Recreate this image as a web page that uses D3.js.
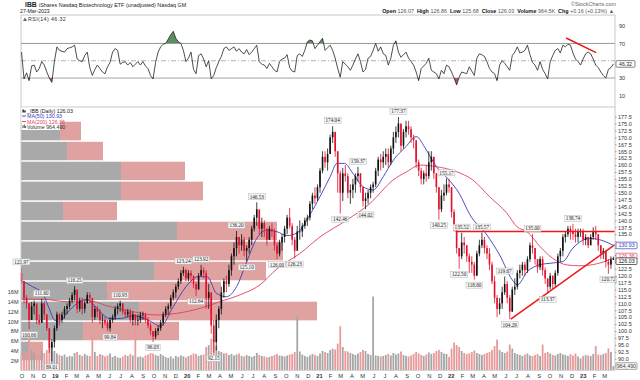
<!DOCTYPE html>
<html><head><meta charset="utf-8">
<script src="https://cdn.jsdelivr.net/npm/d3@7/dist/d3.min.js"></script>
<style>
html,body{margin:0;padding:0;background:#fff;}
svg{display:block;font-family:"Liberation Sans",Arial,sans-serif;}
</style></head><body>
<svg id="chart" width="640" height="380"></svg>
<script>
// ---------------- DATA (weekly) ----------------
const startDate = "2018-10-01";
const endDate = "2023-03-31";
const firstOpen = 121;
const closes = [118,112,110,104,109,110,104,103,110,106,101,94,96,101,106,104,106,108,109,111,113,115,108,111,108,110,113,112,105,108,
107,104,104,103,101,104,105,108,109,110,107,106,107,104,106,104,104,106,106,104,102,100,98,100,101,103,106,108,109,112,
114,116,118,121,122,119,121,120,117,115,120,122,121,112,114,102,96,104,108,114,118,117,122,127,130,134,131,133,129,130,
133,137,141,144,137,139,137,133,137,136,131,128,132,134,137,141,138,133,129,136,136,138,140,141,146,149,148,152,158,163,
161,164,170,172,165,157,150,157,156,150,151,153,156,157,152,147,148,150,152,153,158,162,161,163,164,161,166,170,172,175,
167,172,174,173,170,169,161,158,155,157,156,161,163,157,152,144,149,150,153,152,143,138,130,127,132,131,127,125,124,120,
128,131,133,130,128,124,118,112,108,110,114,117,112,107,115,116,121,122,124,122,126,131,130,126,123,126,122,119,116,120,
117,121,127,129,134,135,137,136,135,134,136,136,133,134,131,134,136,135,131,128,129,125,124,125.87,126.03];
const highs = [122.97,118,113,110,110.5,111,109,106,111.6,111,106,101,97,102,107,106.5,107,109,110,112,114,116.25,114,112,112,111,114,114,111,109,
109,108,106,105,104,105,106,109,110,110.93,110,108,108,108,107,106,106,107,107,106.5,105,103,100,101,102,104,107,109,110,113,
115,117,119,122,123.24,122.5,122,122,120,118,121,123.92,123,122,117,113,104,106,109,116,119,120,124,128,132,136.2,134,135,134,131,
134,138,142,146.53,143,141,140,137,138,139,137,132,133,135,138,142,144.5,139,134,138,140,139,141,142,147,150,152,153,159,165,
165,166,171,174.04,172,165,158,159,160,157,153,155,157,159.37,157,152,150,151,153,154,159,163,164,165,166,166,167,172,174,177.37,
175,173,176,176,174,171,168,162,159,158,160,165,165,163,157,152,151,153,155.17,155,152,144,137,130,135.52,134,131,128,127,125,
129,133,135.57,134,131,130,125,120,113,112,116,119.67,118,113,116,119,122,124,125,125,127,132,135,130,126,127,127,123,119,121,
120,122,128,130,135,136,138,138,138.74,137,137,137,137,135,134,135,137.5,138,135,131,130,129,126,127,126.86];
const lows = [117,110,108,100.66,104,106,102.5,102.2,103,104,100,92,89.01,94,100,102,103,104.5,106,108,110,111,106.5,107,106,106.5,110,110,103,104,
105,102.5,101,102,100,99.84,103,104,106,107,106,105,105,103,102,102,102,103,104,103,101,98.5,96.03,97,98.5,100,102,105,106,108,
111,112,115,117,120,118,118,117.5,115.5,112.64,115,120,119,108,108,99,92.15,93,101,106,112,114,116,120,124,127,128,129,127,125.1,
128,131,136,138,135,134,134,131,133,134,129,126,127,129,132,135,137,131,126.23,130,133,134,137,138,140,144,146,147,150,157,
159,158,164,168,163,150,142.46,147,154,148,146,148,150,154,150,145,144.02,146,148,150,152,156,158,159,160,159,160,164,168,170,
165,166,170,171,168,166,159,156,153,153,154,155,158,155,150,140.25,143,147,149,150,141,136,128,122.5,126,128,125,121,121,118.6,
120,127,130,128,126,122,117,110,105,106,108,113,110,104.29,107,113,115,119,120,120,121,125,128,124,121,122,120,117,113.37,115,
115,116,120,125,127,132,134,133,133,132,132,134,131,131,130,131,133,133,129,126,126,123,120.72,122.5,125.68];
const volumes = [3.5,4.0,3.8,7.0,4.2,3.6,3.8,3.2,4.0,3.6,4.2,4.8,5.3,
4.0,3.5,3.2,3.0,3.3,2.8,3.0,2.9,3.6,3.8,3.2,3.0,3.4,
3.1,3.0,6.7,3.8,3.0,3.4,3.2,2.9,3.1,3.5,2.8,3.0,2.7,
2.6,2.9,3.2,3.0,3.4,3.1,12.5,2.8,2.9,2.7,3.1,3.3,3.6,
3.5,3.2,3.0,3.4,3.1,2.8,2.6,2.9,2.5,3.0,2.8,3.1,2.9,
2.7,3.0,3.2,3.5,3.4,3.0,3.2,3.3,4.8,5.2,6.5,6.3,5.0,
4.0,3.8,3.5,3.6,3.2,3.4,3.1,3.3,3.5,3.0,2.9,3.2,3.0,
2.8,3.0,3.6,3.2,3.0,2.9,2.7,2.8,3.0,3.2,3.4,3.1,3.0,
2.9,3.1,3.3,3.4,3.8,11.0,3.9,3.3,3.0,2.8,3.1,3.4,3.2,
3.0,3.5,4.0,3.8,3.6,4.2,4.5,4.3,5.5,9.0,4.8,4.0,3.9,
3.6,3.4,3.2,3.5,3.8,4.2,4.0,3.4,3.2,15.0,3.1,3.0,2.9,
3.0,3.2,3.4,3.1,3.6,3.3,3.5,3.9,3.2,3.0,2.9,3.1,3.4,
3.8,3.5,3.2,3.0,3.3,3.7,3.4,3.6,4.0,4.2,3.8,3.5,3.4,
2.8,4.5,5.7,5.2,4.8,4.0,3.6,3.4,3.5,3.8,4.1,3.6,3.4,
3.2,3.4,3.6,3.8,4.2,5.0,6.3,4.2,3.8,3.6,3.9,5.3,4.5,
3.6,3.4,3.2,3.0,3.3,3.5,3.1,3.0,3.2,3.4,3.0,5.3,3.6,
3.8,3.5,3.2,3.1,3.4,3.6,3.3,3.2,3.0,3.4,3.1,3.5,2.9,
2.5,3.0,3.2,3.1,3.0,3.4,5.0,3.3,3.2,3.4,3.6,4.5,3.8,0.96449];
const rsi = [60,29,36,27,44,45,37,41,49,45,37,30,25,49,66,62,61,60,64,65,66,68,52,50,49,56,60,42,33,40,
45,41,37,35,43,48,60,64,62,46,48,49,45,48,43,46,49,45,49,44,41,33,29,48,60,66,69,70,75,80,
84,76,72,70,62,49,53,60,40,35,56,58,52,43,50,29,33,42,49,55,64,66,62,64,66,61,64,60,58,63,
57,60,64,68,49,46,45,41,47,43,39,37,49,52,53,57,42,38,37,56,58,55,62,72,74,73,64,68,72,76,
62,65,68,62,53,41,31,49,46,43,39,45,52,58,49,37,40,53,55,62,70,61,66,58,56,45,53,68,73,60,
54,57,60,53,49,45,37,27,41,44,47,53,39,37,35,29,39,35,45,43,37,30,22,31,37,36,35,43,38,33,
53,58,57,55,49,41,37,35,27,45,50,47,43,39,56,60,66,59,60,62,68,57,48,45,39,49,40,35,29,49,
56,62,64,59,68,66,69,68,59,52,49,45,52,58,60,58,52,45,42,37,33,30,40,42,46.32];
const ma50Dates = ["2018-10-01","2018-11-01","2018-11-29","2018-12-17","2018-12-31","2019-01-14","2019-02-04","2019-03-04","2019-04-01","2019-04-15",
"2019-05-06","2019-06-03","2019-07-01","2019-08-05","2019-09-16","2019-10-21","2019-11-25","2019-12-30","2020-02-03","2020-02-28",
"2020-03-23","2020-04-20","2020-05-18","2020-06-15","2020-07-13","2020-08-10","2020-09-07","2020-10-05","2020-11-02","2020-12-07",
"2021-01-04","2021-02-01","2021-02-20","2021-03-13","2021-04-05","2021-05-03","2021-05-31","2021-06-28","2021-07-26","2021-08-30",
"2021-09-27","2021-10-25","2021-11-22","2021-12-27","2022-01-24","2022-02-23","2022-04-11","2022-05-16","2022-06-20","2022-07-04",
"2022-08-01","2022-09-05","2022-10-03","2022-11-07","2022-12-05","2023-01-21","2023-02-17","2023-03-27"];
const ma50 = [118.2,116,113.5,108,104,103.5,106.5,110,111.5,110,107,104.5,104.5,105.5,104,101.8,108.8,116,119.7,119.5,
113.7,112.4,116,125,133.5,136.5,135.9,134.5,135.5,142,148.6,155.8,160.6,160.6,157,152.2,151,155.8,161.8,166.7,
170.3,165.5,159.4,154.6,149.8,142,134.7,127.5,118.5,116.7,121.5,124,124.5,125.1,130,133.5,133,130.93];
const ma200Dates = ["2018-10-01","2018-11-29","2019-02-04","2019-04-01","2019-06-03","2019-08-05","2019-10-11","2019-12-05","2020-02-07","2020-04-02",
"2020-05-28","2020-07-22","2020-09-07","2020-11-09","2021-01-04","2021-03-20","2021-05-23","2021-07-25","2021-09-01","2021-10-08",
"2021-11-23","2022-01-17","2022-03-03","2022-04-18","2022-06-05","2022-07-03","2022-07-31","2022-09-05","2022-10-10","2022-11-18",
"2022-12-24","2023-02-09","2023-03-27"];
const ma200 = [111.5,111.5,110.6,111,108.8,107,105.8,106.4,108.2,110.6,113.1,116.7,122.5,128,134,140.2,146.2,154.6,157.6,160,
159.4,157.6,154.6,148.6,142.6,137.7,135.9,130.5,126.3,123.9,123.6,124.3,126.36];
// volume by price (price bins, up/down volume)
const vbpLow  = [89.2,96.4,103.6,110.9,118.1,125.3,132.6,139.8,147.0,154.3,161.5,168.7];
const vbpHigh = [96.4,103.6,110.9,118.1,125.3,132.6,139.8,147.0,154.3,161.5,168.7,175.95];
const vbpUp   = [4.5,31,59,43,66.5,59,78,21,50,50,23,19.5];
const vbpDown = [6.5,48,89,57,56,72,50,27,41,32,18,10.5];
// annotations (week index, value, H=high label / L=low label)
const annIdx = [0,3,8,12,21,35,39,52,64,69,71,76,85,89,93,101,108,123,126,133,136,149,165,168,173,174,179,182,191,193,202,208,218,232];
const annVal = [122.97,100.66,111.60,89.01,116.25,99.84,110.93,96.03,123.24,112.64,123.92,92.15,136.20,125.10,146.53,126.00,126.23,174.04,142.46,159.37,144.02,177.37,140.25,155.17,122.50,135.52,118.60,135.57,119.67,104.29,135.00,113.37,138.74,120.72];
const annPos = ["H","L","H","L","H","L","H","L","H","L","H","L","H","L","H","L","L","H","L","H","L","H","L","H","L","H","L","H","H","L","H","L","H","L"];
// trend lines
const resistDates = ["2022-01-14","2023-03-31"], resistVals = [136,136];
const supportDates = ["2022-06-16","2023-03-31"], supportVals = [104.3,131.2];
const rsiTrendDates = ["2022-11-16","2023-02-07"], rsiTrendVals = [76.3,59.3];
// ticks / labels
const priceTicks = [90,92.5,95,97.5,100,102.5,105,107.5,110,112.5,115,117.5,120,122.5,125,127.5,130,132.5,135,137.5,140,142.5,145,147.5,150,152.5,155,157.5,160,162.5,165,167.5,170,172.5,175,177.5];
const volTicks = [2,4,6,8,10,12,14,16];
const rsiTicks = [10,30,50,70,90];
const monthLetters = ["J","F","M","A","M","J","J","A","S","O","N","D"];
const lastVals = {ma50:130.93, ma200:126.36, close:126.03, vol:0.96449, rsi:46.32};

// ---------------- DRAW ----------------
const parse = d3.timeParse("%Y-%m-%d");
const start = parse(startDate), end = parse(endDate);
const weeks = closes.map((c,i)=>d3.timeDay.offset(start, 7*i));
const opens = closes.map((c,i)=> i===0 ? firstOpen : closes[i-1]);
const idx = d3.range(closes.length);

const L = 21, R = 615, rsiTop = 15, pTop = 107, pBot = 370.5;
const svg = d3.select("#chart");

const x = d3.scaleTime().domain([start, end]).range([21.5, 614.9]);
const y = d3.scaleLinear().domain([85.9, 181.0]).range([370, 107]);
const yv = d3.scaleLinear().domain([0, 16]).range([370.8, 291.6]);
const yr = d3.scaleLinear().domain([0, 100]).range([104, 17.5]);
const xv = d3.scaleLinear().domain([0, 297]).range([21, 615]);

// header
const hdr = svg.append("g").attr("fill","#222");
hdr.append("text").attr("x",25).attr("y",7).attr("font-size",6.8).attr("font-weight","bold").text("IBB");
hdr.append("text").attr("x",39).attr("y",7).attr("font-size",5.4).text("iShares Nasdaq Biotechnology ETF (unadjusted) Nasdaq GM");
hdr.append("text").attr("x",20).attr("y",12.8).attr("font-size",5.2).text("27-Mar-2023");
hdr.append("text").attr("x",616).attr("y",6.3).attr("font-size",5.4).attr("text-anchor","end").attr("fill","#666").text("\u00A9StockCharts.com");
const ohlc = hdr.append("text").attr("x",614).attr("y",13).attr("font-size",5.4).attr("text-anchor","end");
[["Open"," 126.07  "],["High"," 126.86  "],["Low"," 125.68  "],["Close"," 126.03  "],["Volume"," 964.5K  "],["Chg"," +0.16 (+0.13%) \u25B2"]].forEach(p=>{
  ohlc.append("tspan").attr("font-weight","bold").attr("fill","#111").text(p[0]);
  ohlc.append("tspan").attr("fill","#555").attr("xml:space","preserve").text(p[1]);
});

// ---------- RSI panel ----------
const gR = svg.append("g");
gR.append("line").attr("x1",L).attr("x2",R).attr("y1",rsiTop).attr("y2",rsiTop).attr("stroke","#c8c8c8");
gR.append("line").attr("x1",L).attr("x2",L).attr("y1",rsiTop).attr("y2",pTop).attr("stroke","#c8c8c8");
gR.append("line").attr("x1",R).attr("x2",R).attr("y1",rsiTop).attr("y2",pTop).attr("stroke","#c8c8c8");
[70,30].forEach(v=>gR.append("line").attr("x1",L).attr("x2",R).attr("y1",yr(v)).attr("y2",yr(v)).attr("stroke","#9a9a9a").attr("stroke-width",0.9));
gR.append("line").attr("x1",L).attr("x2",R).attr("y1",yr(50)).attr("y2",yr(50)).attr("stroke","#a8a8a8").attr("stroke-width",0.9).attr("stroke-dasharray","5,2,1,2");
const defs = svg.append("defs");
defs.append("clipPath").attr("id","above70").append("rect").attr("x",L).attr("y",rsiTop).attr("width",R-L).attr("height",yr(70)-rsiTop);
defs.append("clipPath").attr("id","below30").append("rect").attr("x",L).attr("y",yr(30)).attr("width",R-L).attr("height",pTop-yr(30));
gR.append("path").datum(idx).attr("clip-path","url(#above70)").attr("fill","#5e8f5e")
  .attr("d", d3.area().x(i=>x(weeks[i])).y0(yr(70)).y1(i=>yr(rsi[i])));
gR.append("path").datum(idx).attr("clip-path","url(#below30)").attr("fill","#b35a5a")
  .attr("d", d3.area().x(i=>x(weeks[i])).y0(yr(30)).y1(i=>yr(rsi[i])));
gR.append("path").datum(idx).attr("fill","none").attr("stroke","#222").attr("stroke-width",0.8)
  .attr("d", d3.line().x(i=>x(weeks[i])).y(i=>yr(rsi[i])));
gR.append("path").datum([0,1]).attr("fill","none").attr("stroke","#e8141c").attr("stroke-width",1.4)
  .attr("d", d3.line().x(k=>x(parse(rsiTrendDates[k]))).y(k=>yr(rsiTrendVals[k])));
const rAx = gR.append("g").attr("transform",`translate(${R},0)`)
  .call(d3.axisRight(yr).tickValues(rsiTicks).tickSize(0).tickPadding(4));
rAx.select(".domain").remove();
rAx.selectAll("text").attr("font-size",5.5).attr("fill","#333").attr("font-family","Liberation Sans, Arial")
  .style("display", d => Math.abs(yr(d)-yr(lastVals.rsi)) < 5.5 ? "none" : null);
// rsi legend
gR.append("path").attr("d","M23,21 L25,17.5 L27,21 Z").attr("fill","#4d7d4d");
gR.append("text").attr("x",28).attr("y",21).attr("font-size",5.3).attr("fill","#333").attr("letter-spacing",0.4).text("RSI(14) "+lastVals.rsi.toFixed(2));
// rsi value box
const rb = gR.append("g").attr("transform",`translate(616,${yr(lastVals.rsi)})`);
rb.append("rect").attr("x",0).attr("y",-3.3).attr("width",19).attr("height",6.6).attr("fill","#fff").attr("stroke","#333").attr("stroke-width",0.6).attr("rx",1);
rb.append("text").attr("x",9.5).attr("y",0).attr("dy","0.35em").attr("text-anchor","middle").attr("font-size",5.2).attr("fill","#222").text(lastVals.rsi.toFixed(2));

// ---------- Main panel ----------
const gM = svg.append("g");
// volume-by-price
const gV = gM.append("g");
vbpLow.forEach((lo,k)=>{
  const yt = y(vbpHigh[k]) + 0.8, yb = y(lo) - 0.7;
  gV.append("rect").attr("x",xv(0)).attr("y",yt).attr("width",xv(vbpUp[k])-xv(0)).attr("height",yb-yt).attr("fill","#a9a9a9");
  gV.append("rect").attr("x",xv(vbpUp[k])).attr("y",yt).attr("width",xv(vbpUp[k]+vbpDown[k])-xv(vbpUp[k])).attr("height",yb-yt).attr("fill","#e0a1a1");
});
// volume bars
gM.append("g").selectAll("rect").data(idx).join("rect")
  .attr("x",i=>x(weeks[i])-0.9).attr("width",1.8)
  .attr("y",i=>yv(volumes[i])).attr("height",i=>yv(0)-yv(volumes[i]))
  .attr("fill",i=>closes[i]>=opens[i] ? "#a6a6a6" : "#e89a9a");
// moving averages
gM.append("path").datum(ma200Dates.map((d,k)=>[parse(d),ma200[k]])).attr("fill","none").attr("stroke","#e0405e").attr("stroke-width",0.9)
  .attr("d", d3.line().x(d=>x(d[0])).y(d=>y(d[1])).curve(d3.curveMonotoneX));
gM.append("path").datum(ma50Dates.map((d,k)=>[parse(d),ma50[k]])).attr("fill","none").attr("stroke","#3a3ac0").attr("stroke-width",0.9)
  .attr("d", d3.line().x(d=>x(d[0])).y(d=>y(d[1])).curve(d3.curveMonotoneX));
// candles
const gK = gM.append("g");
const col = i => closes[i]>=opens[i] ? "#111" : "#e3102c";
gK.selectAll("line").data(idx).join("line")
  .attr("x1",i=>x(weeks[i])).attr("x2",i=>x(weeks[i]))
  .attr("y1",i=>y(highs[i])).attr("y2",i=>y(lows[i]))
  .attr("stroke",col).attr("stroke-width",0.8);
gK.selectAll("rect").data(idx).join("rect")
  .attr("x",i=>x(weeks[i])-0.8).attr("width",1.6)
  .attr("y",i=>y(Math.max(opens[i],closes[i])))
  .attr("height",i=>Math.max(0.8, Math.abs(y(opens[i])-y(closes[i]))))
  .attr("fill",col);
// trend lines
const tl = d3.line().x(d=>x(parse(d[0]))).y(d=>y(d[1]));
gM.append("path").datum(resistDates.map((d,k)=>[d,resistVals[k]])).attr("d",tl).attr("stroke","#f01818").attr("stroke-width",1.5).attr("fill","none");
gM.append("path").datum(supportDates.map((d,k)=>[d,supportVals[k]])).attr("d",tl).attr("stroke","#f01818").attr("stroke-width",1.5).attr("fill","none");
// annotations
const gA = gM.append("g");
annIdx.forEach((wi,k)=>{
  const cx = x(weeks[wi]);
  const cy = annPos[k]==="H" ? y(annVal[k]) - 5.6 : y(annVal[k]) + 5.6;
  const g = gA.append("g");
  const t = g.append("text").attr("x",cx).attr("y",cy).attr("dy","0.35em").attr("text-anchor","middle")
    .attr("font-size",5.2).attr("font-family","Liberation Serif, Times New Roman, serif").attr("fill","#222").text(annVal[k].toFixed(2));
  const w = t.node().getComputedTextLength();
  g.insert("rect","text").attr("x",cx-w/2-1.3).attr("y",cy-3).attr("width",w+2.6).attr("height",6)
    .attr("fill","#f6f6f6").attr("stroke","#b5b5b5").attr("stroke-width",0.5);
});
// frame
gM.append("line").attr("x1",L).attr("x2",R).attr("y1",pTop).attr("y2",pTop).attr("stroke","#c8c8c8");
gM.append("line").attr("x1",L).attr("x2",L).attr("y1",pTop).attr("y2",pBot).attr("stroke","#c8c8c8");
gM.append("line").attr("x1",R).attr("x2",R).attr("y1",pTop).attr("y2",pBot).attr("stroke","#c8c8c8");
gM.append("line").attr("x1",L).attr("x2",R).attr("y1",pBot).attr("y2",pBot).attr("stroke","#d4d4d4");
// legend
const lg = gM.append("g");
lg.append("rect").attr("x",21.5).attr("y",107.5).attr("width",38.5).attr("height",22.5).attr("fill","#fff");
lg.append("rect").attr("x",22.5).attr("y",109.5).attr("width",1.3).attr("height",3).attr("fill","#111");
lg.append("rect").attr("x",24.3).attr("y",110.3).attr("width",1.3).attr("height",2.2).attr("fill","#111");
lg.append("line").attr("x1",22).attr("x2",26).attr("y1",116).attr("y2",116).attr("stroke","#3a3ac0").attr("stroke-width",0.9);
lg.append("line").attr("x1",22).attr("x2",26).attr("y1",121.5).attr("y2",121.5).attr("stroke","#e0405e").attr("stroke-width",0.9);
[[22.5,2.5],[23.8,3.5],[25.1,2]].forEach(b=>lg.append("rect").attr("x",b[0]).attr("y",128-b[1]).attr("width",1).attr("height",b[1]).attr("fill","#555"));
lg.append("text").attr("x",27).attr("y",112.5).attr("font-size",5.3).attr("fill","#222").text("_IBB (Daily) "+lastVals.close.toFixed(2));
lg.append("text").attr("x",27).attr("y",118).attr("font-size",5.3).attr("fill","#3a3ac0").text("MA(50) "+lastVals.ma50.toFixed(2));
lg.append("text").attr("x",27).attr("y",123.5).attr("font-size",5.3).attr("fill","#e0405e").text("MA(200) "+lastVals.ma200.toFixed(2));
lg.append("text").attr("x",27).attr("y",129).attr("font-size",5.3).attr("fill","#333").text("Volume "+d3.format(",")(Math.round(lastVals.vol*1e6)));

// price axis (right) – labels hidden where a last-value box covers them
const boxYs = [y(lastVals.ma50), y(lastVals.ma200), y(lastVals.close)];
const pAx = gM.append("g").attr("transform",`translate(${R},0)`)
  .call(d3.axisRight(y).tickValues(priceTicks).tickFormat(d3.format(".1f")).tickSize(1.5).tickPadding(1.5));
pAx.select(".domain").remove();
pAx.selectAll("line").attr("stroke","#999");
pAx.selectAll("text").attr("font-size",5.5).attr("fill","#333").attr("font-family","Liberation Sans, Arial")
  .style("display", d => boxYs.some(b=>Math.abs(b-y(d))<6.2) ? "none" : null);
// volume axis (left)
const vAx = gM.append("g").attr("transform",`translate(${L},0)`)
  .call(d3.axisLeft(yv).tickValues(volTicks).tickFormat(d=>d+"M").tickSize(0).tickPadding(2.5));
vAx.select(".domain").remove();
vAx.selectAll("text").attr("font-size",5.5).attr("fill","#333").attr("font-family","Liberation Sans, Arial");
// month axis
const months = d3.timeMonth.range(start, end);
const mAx = gM.append("g").attr("transform",`translate(0,${pBot})`)
  .call(d3.axisBottom(x).tickValues(months).tickSize(0).tickPadding(3)
    .tickFormat(d=> d.getMonth()===0 ? d3.timeFormat("%y")(d) : monthLetters[d.getMonth()]));
mAx.select(".domain").remove();
mAx.selectAll("text").attr("font-size",5.8).attr("fill","#333").attr("font-family","Liberation Sans, Arial")
  .attr("font-weight",d=>d.getMonth()===0 ? "bold" : "normal");

// value boxes on right axis
function vbox(yy, txt, stroke, fill){
  const g = gM.append("g").attr("transform",`translate(616,${yy})`);
  g.append("rect").attr("x",0).attr("y",-3.3).attr("width",21).attr("height",6.6).attr("fill","#fff").attr("stroke",stroke).attr("stroke-width",0.7).attr("rx",1);
  g.append("text").attr("x",10.5).attr("y",0).attr("dy","0.35em").attr("text-anchor","middle").attr("font-size",5.3).attr("fill",fill).text(txt);
}
vbox(y(lastVals.ma50), lastVals.ma50.toFixed(2), "#3a3ac0", "#3a3ac0");
vbox(y(lastVals.ma200)-1.6, lastVals.ma200.toFixed(2), "#e0405e", "#e0405e");
vbox(y(lastVals.close)+2.2, lastVals.close.toFixed(2), "#222", "#111");
vbox(yv(lastVals.vol), d3.format(",")(Math.round(lastVals.vol*1e6)), "#777", "#333");
</script>
</body></html>
